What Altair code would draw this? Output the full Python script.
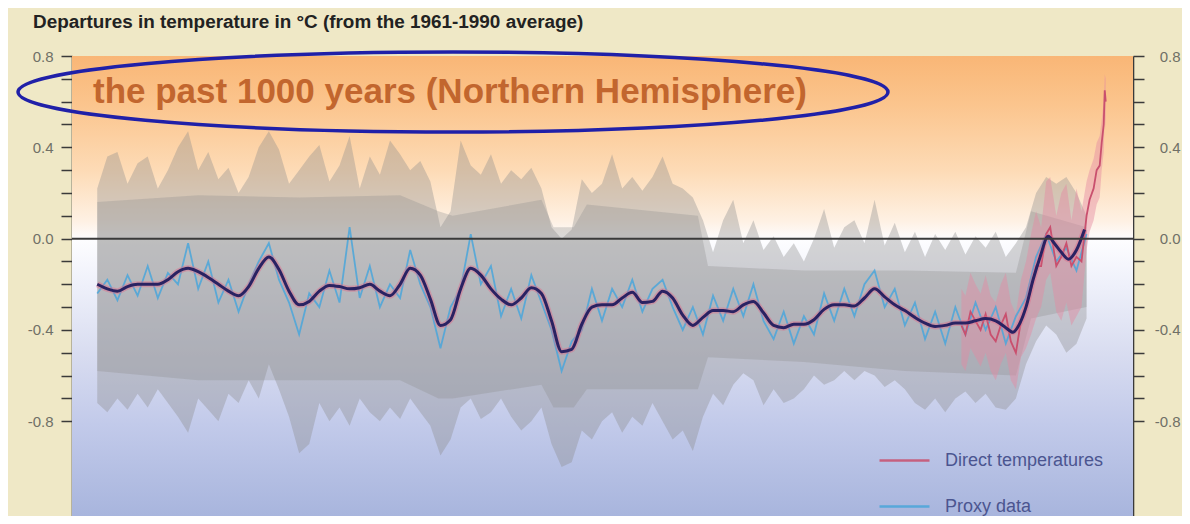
import altair as alt
import pandas as pd

# ---------------- data ----------------
decade_years = list(range(1000, 1990, 10))  # 1000 ... 1980

band_upper = [
    0.22, 0.36, 0.38, 0.24, 0.33, 0.36, 0.22, 0.30, 0.40, 0.47,
    0.30, 0.38, 0.26, 0.31, 0.20, 0.27, 0.40, 0.47, 0.39, 0.24,
    0.30, 0.36, 0.41, 0.25, 0.32, 0.45, 0.22, 0.36, 0.28, 0.43,
    0.37, 0.30, 0.34, 0.25, 0.05, 0.12, 0.43, 0.32, 0.28, 0.37,
    0.24, 0.30, 0.26, 0.31, 0.22, 0.05, 0.00, 0.04, 0.26, 0.20,
    0.24, 0.37, 0.22, 0.27, 0.21, 0.27, 0.36, 0.24, 0.22, 0.18,
    0.08, -0.06, 0.08, 0.17, -0.02, 0.08, -0.05, 0.01, -0.08, -0.02,
    -0.10, 0.00, 0.13, -0.04, 0.05, 0.08, -0.02, 0.17, -0.03, 0.07,
    -0.06, 0.03, -0.08, 0.02, -0.05, 0.03, -0.07, 0.01, -0.04, 0.03,
    -0.08, -0.02, 0.05, 0.20, 0.27, 0.24, 0.27, 0.20, 0.10,
]
band_lower = [
    -0.72, -0.76, -0.70, -0.75, -0.68, -0.74, -0.66, -0.72, -0.78, -0.85,
    -0.70, -0.75, -0.80, -0.68, -0.72, -0.62, -0.70, -0.55, -0.66, -0.78,
    -0.94, -0.90, -0.72, -0.80, -0.74, -0.82, -0.70, -0.76, -0.80, -0.74,
    -0.79, -0.70, -0.76, -0.82, -0.95, -0.88, -0.74, -0.70, -0.79, -0.76,
    -0.70, -0.78, -0.84, -0.80, -0.74, -0.90, -1.00, -0.98, -0.84, -0.88,
    -0.80, -0.76, -0.85, -0.78, -0.82, -0.72, -0.80, -0.88, -0.84, -0.93,
    -0.78, -0.68, -0.73, -0.64, -0.59, -0.62, -0.73, -0.66, -0.72, -0.70,
    -0.66, -0.60, -0.64, -0.62, -0.58, -0.62, -0.58, -0.60, -0.65, -0.62,
    -0.66, -0.72, -0.75, -0.70, -0.76, -0.70, -0.67, -0.72, -0.68, -0.74,
    -0.75, -0.70, -0.55, -0.45, -0.38, -0.42, -0.50, -0.46, -0.35,
]
proxy_values = [
    -0.24, -0.18, -0.27, -0.16, -0.25, -0.12, -0.26, -0.15, -0.20, -0.02,
    -0.22, -0.10, -0.28, -0.18, -0.32, -0.20, -0.10, -0.02, -0.18, -0.28,
    -0.42, -0.24, -0.30, -0.14, -0.28, 0.05, -0.26, -0.12, -0.30, -0.20,
    -0.26, -0.05, -0.20, -0.30, -0.48, -0.30, -0.22, 0.02, -0.20, -0.12,
    -0.34, -0.22, -0.35, -0.16, -0.28, -0.40, -0.58, -0.45, -0.40, -0.22,
    -0.36, -0.22, -0.30, -0.18, -0.32, -0.22, -0.18, -0.30, -0.40, -0.30,
    -0.42, -0.25, -0.36, -0.22, -0.34, -0.20, -0.36, -0.44, -0.32, -0.46,
    -0.34, -0.42, -0.24, -0.36, -0.22, -0.34, -0.20, -0.14, -0.30, -0.22,
    -0.38, -0.28, -0.44, -0.32, -0.46, -0.30, -0.42, -0.28, -0.40, -0.30,
    -0.46, -0.34, -0.26, -0.08, 0.02, -0.10, -0.04, -0.14, 0.02,
]

core_years = [1000, 1100, 1200, 1300, 1338, 1352, 1440, 1452, 1472, 1485,
              1595, 1605, 1700, 1800, 1910, 1925, 1980]
core_upper = [0.16, 0.19, 0.18, 0.19, 0.12, 0.10, 0.17, 0.05, 0.05, 0.15,
              0.10, -0.12, -0.14, -0.14, -0.15, 0.12, 0.05]
core_lower = [-0.58, -0.62, -0.62, -0.62, -0.70, -0.70, -0.64, -0.74, -0.74, -0.66,
              -0.66, -0.52, -0.54, -0.58, -0.60, -0.35, -0.30]

smooth_years = list(range(1000, 1900, 10)) + [1900, 1907, 1914, 1920, 1927, 1934,
                                               1942, 1948, 1955, 1962, 1970, 1978]
smooth_values = [
    -0.20, -0.22, -0.23, -0.21, -0.20, -0.20, -0.20, -0.18, -0.145, -0.13,
    -0.145, -0.17, -0.20, -0.23, -0.25, -0.21, -0.13, -0.08, -0.135, -0.23,
    -0.29, -0.275, -0.23, -0.205, -0.21, -0.22, -0.215, -0.20, -0.23, -0.25,
    -0.20, -0.13, -0.16, -0.265, -0.38, -0.355, -0.22, -0.13, -0.16, -0.22,
    -0.265, -0.29, -0.26, -0.215, -0.24, -0.36, -0.495, -0.485, -0.375, -0.30,
    -0.29, -0.29, -0.26, -0.235, -0.28, -0.275, -0.23, -0.26, -0.335, -0.38,
    -0.345, -0.315, -0.315, -0.32, -0.29, -0.275, -0.325, -0.38, -0.39, -0.375,
    -0.375, -0.355, -0.31, -0.29, -0.29, -0.295, -0.26, -0.22, -0.255, -0.29,
    -0.315, -0.345, -0.37, -0.385, -0.38, -0.37, -0.37, -0.36, -0.35, -0.36,
    -0.39, -0.41, -0.37, -0.30, -0.18, -0.08, 0.01, -0.02, -0.06, -0.09, -0.05, 0.04,
]

direct_years = [1856, 1860, 1865, 1870, 1875, 1880, 1885, 1890, 1895, 1900, 1905, 1910,
                1915, 1920, 1925, 1930, 1935, 1940, 1944, 1950, 1955, 1960, 1965, 1970,
                1975, 1980, 1983, 1987, 1990, 1993, 1995, 1997, 1998, 1999]
direct_values = [-0.38, -0.42, -0.32, -0.36, -0.40, -0.33, -0.42, -0.45, -0.38, -0.33, -0.45, -0.50,
                 -0.36, -0.30, -0.22, -0.12, -0.12, 0.02, 0.05, -0.12, -0.08, -0.02, -0.12, -0.08,
                 -0.10, 0.10, 0.17, 0.22, 0.30, 0.32, 0.42, 0.50, 0.65, 0.60]
direct_upper = [-0.22, -0.25, -0.15, -0.20, -0.24, -0.16, -0.25, -0.28, -0.20, -0.15, -0.28, -0.33,
                -0.18, -0.10, 0.02, 0.12, 0.05, 0.25, 0.27, 0.10, 0.20, 0.24, 0.08, 0.22,
                0.12, 0.25, 0.30, 0.35, 0.42, 0.45, 0.52, 0.60, 0.72, 0.70]
direct_lower = [-0.55, -0.58, -0.48, -0.52, -0.56, -0.50, -0.58, -0.62, -0.55, -0.50, -0.62, -0.66,
                -0.52, -0.48, -0.42, -0.35, -0.30, -0.18, -0.15, -0.32, -0.36, -0.28, -0.38, -0.34,
                -0.30, -0.05, 0.03, 0.08, 0.15, 0.18, 0.30, 0.38, 0.55, 0.48]

series_names = ["Direct temperatures", "Proxy data"]
series_colors = ["#C9506E", "#4AA6DA"]

tick_values = [-0.8, -0.7, -0.6, -0.5, -0.4, -0.3, -0.2, -0.1, 0.0,
               0.1, 0.2, 0.3, 0.4, 0.5, 0.6, 0.7, 0.8]

title_text = "Departures in temperature in °C (from the 1961-1990 average)"
annotation_text = "the past 1000 years (Northern Hemisphere)"

# ---------------- tables ----------------
dec_df = pd.DataFrame({"year": decade_years, "upper": band_upper,
                       "lower": band_lower, "proxy": proxy_values,
                       "series": series_names[1]})
core_df = pd.DataFrame({"year": core_years, "upper": core_upper, "lower": core_lower})
smooth_df = pd.DataFrame({"year": smooth_years, "value": smooth_values})
direct_df = pd.DataFrame({"year": direct_years, "value": direct_values,
                          "upper": direct_upper, "lower": direct_lower,
                          "series": series_names[0]})

W, H = 1061, 460
FONT = "Liberation Sans"
xs = alt.Scale(domain=[975, 2026], nice=False, zero=False)
ys = alt.Scale(domain=[-1.215, 0.8], nice=False, zero=False)
X = lambda f: alt.X(f, scale=xs, axis=None)

label_expr = ("round(datum.value*10) % 4 == 0 ? "
              "(datum.value < -0.01 ? '-' : '') + format(abs(datum.value), '.1f') : ''")
axis_common = dict(values=tick_values, labelExpr=label_expr, title=None, grid=False,
                   tickSize=11, tickColor="#3A3A3A", tickWidth=1.5,
                   domainColor="#3A3A3A", domainWidth=1.6,
                   labelFontSize=15, labelColor="#707066", labelFont=FONT,
                   labelOverlap=False)
left_axis = alt.Axis(orient="left", labelPadding=8, **axis_common)
right_axis = alt.Axis(orient="right", labelPadding=36, labelAlign="right", **axis_common)

gradient = alt.LinearGradient(
    gradient="linear", x1=0, x2=0, y1=0, y2=1,
    stops=[alt.GradientStop(color="#F9B676", offset=0.0),
           alt.GradientStop(color="#FBC48C", offset=0.1),
           alt.GradientStop(color="#FDDBB6", offset=0.25),
           alt.GradientStop(color="#FEF1E4", offset=0.36),
           alt.GradientStop(color="#FDFDFF", offset=0.40),
           alt.GradientStop(color="#EEF0FA", offset=0.5),
           alt.GradientStop(color="#D8DCF0", offset=0.65),
           alt.GradientStop(color="#C2CAEA", offset=0.8),
           alt.GradientStop(color="#A8B5DD", offset=1.0)])

one = pd.DataFrame({"k": [0]})

bg = alt.Chart(one).mark_rect(color=gradient).encode(
    x=alt.value(0), x2=alt.value(W), y=alt.value(0), y2=alt.value(H))

band_outer = alt.Chart(dec_df).mark_area(color="#8A8A8A", opacity=0.36).encode(
    x=X("year:Q"), y=alt.Y("upper:Q", scale=ys, axis=None), y2="lower:Q")
band_core = alt.Chart(core_df).mark_area(color="#8A8A8A", opacity=0.3).encode(
    x=X("year:Q"), y=alt.Y("upper:Q", scale=ys, axis=None), y2="lower:Q")
direct_band = alt.Chart(direct_df).mark_area(color="#E58AA2", opacity=0.45).encode(
    x=X("year:Q"), y=alt.Y("upper:Q", scale=ys, axis=None), y2="lower:Q")

cscale = alt.Scale(domain=series_names, range=series_colors)
legend = alt.Legend(title=None, orient="none", legendX=806, legendY=378,
                    symbolType="stroke", symbolSize=2500, symbolStrokeWidth=2.5,
                    labelFontSize=18, labelColor="#4B5590", labelFont=FONT,
                    labelOffset=14, rowPadding=10, padding=0)

proxy_line = alt.Chart(dec_df).mark_line(strokeWidth=1.8, opacity=0.85).encode(
    x=X("year:Q"), y=alt.Y("proxy:Q", scale=ys, axis=None),
    color=alt.Color("series:N", scale=cscale, legend=legend))
direct_line = alt.Chart(direct_df).mark_line(strokeWidth=1.8).encode(
    x=X("year:Q"), y=alt.Y("value:Q", scale=ys, axis=None),
    color=alt.Color("series:N", scale=cscale, legend=legend))

smooth_halo = alt.Chart(smooth_df).mark_line(
    color="#E06A8A", strokeWidth=6, opacity=0.45, interpolate="monotone").encode(
    x=X("year:Q"), y=alt.Y("value:Q", scale=ys, axis=None))
smooth_line = alt.Chart(smooth_df).mark_line(
    color="#2A2262", strokeWidth=3, interpolate="monotone").encode(
    x=X("year:Q"), y=alt.Y("value:Q", scale=ys, axis=None))

zero_df = pd.DataFrame({"z": [0.0]})
zero_rule = alt.Chart(zero_df).mark_rule(color="#3A3A3A", strokeWidth=2).encode(
    y=alt.Y("z:Q", scale=ys, axis=left_axis))
right_axis_layer = alt.Chart(zero_df).mark_rule(opacity=0).encode(
    y=alt.Y("z:Q", scale=ys, axis=right_axis))

ellipse = alt.Chart(one).mark_point(
    shape="M -1 0 A 1 0.092 0 1 0 1 0 A 1 0.092 0 1 0 -1 0 Z",
    size=870 * 870, filled=False, stroke="#2020A8", strokeWidth=3.5, opacity=1).encode(
    x=alt.value(381), y=alt.value(36))

annot = alt.Chart(one).mark_text(
    text=annotation_text, font=FONT, fontSize=35, fontWeight="bold",
    color="#C2662E", align="left", baseline="alphabetic").encode(
    x=alt.value(21), y=alt.value(47))

title = alt.Chart(one).mark_text(
    text=title_text, font=FONT, fontSize=18.9, fontWeight="bold",
    color="#222222", align="left", baseline="middle").encode(
    x=alt.value(-39), y=alt.value(-34))

chart = alt.layer(
    bg, band_outer, band_core, direct_band, proxy_line, direct_line,
    smooth_halo, smooth_line, zero_rule, right_axis_layer, ellipse, annot, title
).resolve_axis(y="independent").properties(
    width=W, height=H, autosize="none",
    padding={"left": 64, "top": 48, "right": 49, "bottom": 0},
    background="#EFE8C6"
).configure_view(stroke=None)

chart.save("out.html", embed_options={"renderer": "svg", "actions": False})
